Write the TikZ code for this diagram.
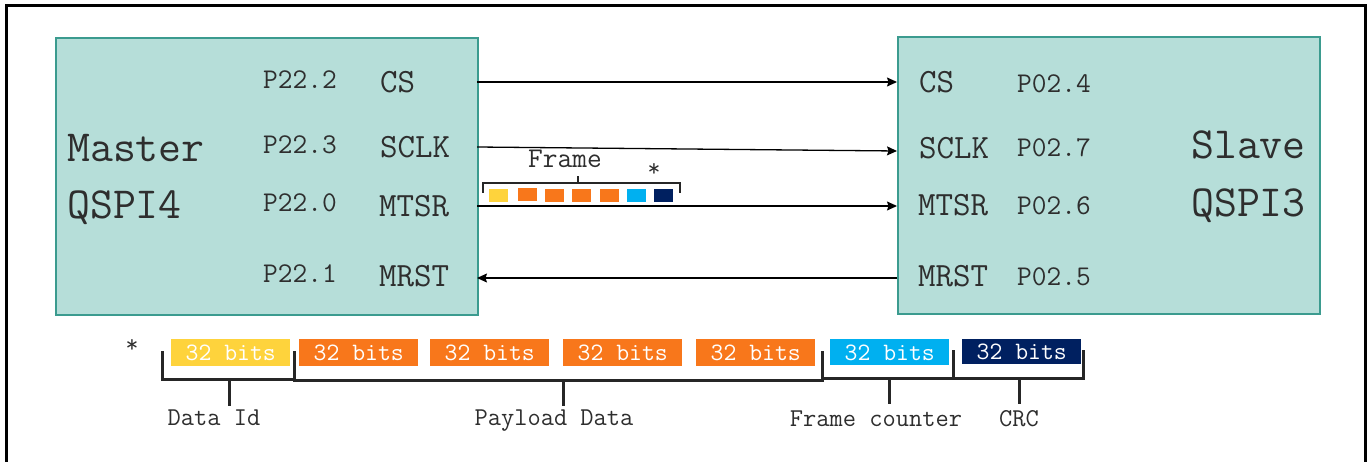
\documentclass[tikz,border=0pt]{standalone}
\usepackage{fontspec}
\usetikzlibrary{arrows.meta}
\definecolor{tealfill}{HTML}{B6DED9}
\definecolor{tealline}{HTML}{3B9B8F}
\definecolor{txt}{HTML}{2E2E2E}
\definecolor{cyel}{HTML}{FED33C}
\definecolor{cora}{HTML}{F8771B}
\definecolor{cblu}{HTML}{00B0F0}
\definecolor{cnav}{HTML}{002060}
\newcommand\myfs[1]{\ttfamily\fontsize{#1}{#1}\selectfont}
\tikzset{
  chip/.style={draw=tealline, fill=tealfill, line width=2, minimum width=422, minimum height=277, anchor=north west, inner sep=0},
  big/.style={inner sep=0, anchor=base west, text=txt, font=\myfs{44.5}},
  pin/.style={inner sep=0, anchor=base west, text=txt, font=\myfs{28.6}},
  sig/.style={inner sep=0, anchor=base west, text=txt, font=\myfs{34}},
  conn/.style={line width=1.3, draw=black, -{Stealth[length=10,width=9,inset=1.5]}},
  sq/.style={minimum width=19, minimum height=13, inner sep=0, anchor=north west},
  bits/.style={minimum width=119, minimum height=27, inner sep=0, anchor=north west},
  brk/.style={line width=3, draw=black!85},
  lbl/.style={inner sep=0, anchor=base, text=txt, font=\myfs{25.7}},
}
\begin{document}
\begin{tikzpicture}[x=1pt,y=-1pt]
\useasboundingbox (0,0) rectangle (1370,462);
\draw[line width=3] (6,462) -- (6,6) -- (1365,6) -- (1365,462);

% chips
\node[chip] (master) at (55,37) {};
\node[chip] (slave) at (897,36) {};

\node[big] (mt1) at (67,162) {Master};
\node[big] (mt2) at (67,219) {QSPI4};
\node[big, anchor=base east] (st1) at (1306,159) {Slave};
\node[big, anchor=base east] (st2) at (1306,217) {QSPI3};

% master pins
\node[pin] (mp1) at (263,89) {P22.2};
\node[pin] (mp2) at (263,154) {P22.3};
\node[pin] (mp3) at (263,212) {P22.0};
\node[pin] (mp4) at (263,283) {P22.1};
\node[sig] (ms1) at (380,93) {CS};
\node[sig] (ms2) at (380,158) {SCLK};
\node[sig] (ms3) at (379,217) {MTSR};
\node[sig] (ms4) at (379,287) {MRST};

% slave pins
\node[sig] (ss1) at (919,93) {CS};
\node[sig] (ss2) at (919,159) {SCLK};
\node[sig] (ss3) at (918,216) {MTSR};
\node[sig] (ss4) at (918,287) {MRST};
\node[pin] (sp1) at (1017,93) {P02.4};
\node[pin] (sp2) at (1017,157) {P02.7};
\node[pin] (sp3) at (1017,215) {P02.6};
\node[pin] (sp4) at (1017,286) {P02.5};

% connector ends
\coordinate (a1) at (477,82);  \coordinate (b1) at (897,82);
\coordinate (a2) at (477,147); \coordinate (b2) at (897,151);
\coordinate (a3) at (477,206); \coordinate (b3) at (897,206);
\coordinate (a4) at (477,278); \coordinate (b4) at (897,278);
\draw[conn] (a1) -- (b1);
\draw[conn] (a2) -- (b2);
\draw[conn] (a3) -- (b3);
\draw[conn] (b4) -- (a4);

% frame mini squares
\node[sq, fill=cyel] (q1) at (489,189) {};
\node[sq, fill=cora] (q2) at (518,188) {};
\node[sq, fill=cora] (q3) at (545,189) {};
\node[sq, fill=cora] (q4) at (572,189) {};
\node[sq, fill=cora] (q5) at (600,189) {};
\node[sq, fill=cblu] (q6) at (627,189) {};
\node[sq, fill=cnav] (q7) at (654,189) {};
\draw[line width=2.5, draw=black!85] (483,193) -- (483,183) -- (680,183) -- (680,193);
\draw[line width=2.5, draw=black!85] (578,183) -- (578,176);
\node[lbl, font=\myfs{28.6}] (frm) at (565,168) {Frame};
\node[lbl, font=\myfs{25}] (star1) at (654,177) {*};

% bottom 32-bit boxes
\node[lbl, font=\myfs{25}] (star2) at (132,352) {*};
\node[bits, fill=cyel] (w1) at (171,339) {};
\node[bits, fill=cora] (w2) at (299,339) {};
\node[bits, fill=cora] (w3) at (430,339) {};
\node[bits, fill=cora] (w4) at (563,339) {};
\node[bits, fill=cora] (w5) at (696,339) {};
\node[bits, fill=cblu, minimum height=26] (w6) at (830,339) {};
\node[bits, fill=cnav, minimum height=25] (w7) at (962,339) {};
\foreach \i in {1,...,7} {
  \node[inner sep=0, anchor=base, text=white, font=\myfs{25}] at ([yshift=-8]w\i.center) {32 bits};
}

% brackets
\draw[brk] (162,351) -- (162,379) -- (294,379);
\draw[brk] (294,351) -- (294,380) -- (822,380) -- (822,351);
\draw[brk] (822,378) -- (953,378) -- (953,350);
\draw[brk] (953,378) -- (1083,378) -- (1083,350);
\draw[brk] (229,379) -- (229,406);
\draw[brk] (563,380) -- (563,406);
\draw[brk] (889,378) -- (889,404);
\draw[brk] (1019,378) -- (1019,404);

\node[lbl] (l1) at (214,425) {Data Id};
\node[lbl] (l2) at (554,425) {Payload Data};
\node[lbl] (l3) at (876,426) {Frame counter};
\node[lbl] (l4) at (1019,426) {CRC};
\end{tikzpicture}
\end{document}
